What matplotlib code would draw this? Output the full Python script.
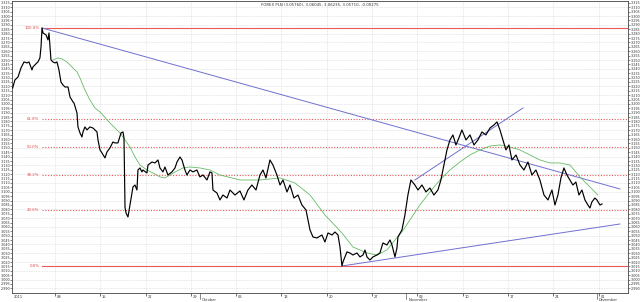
import numpy as np
import matplotlib
matplotlib.use('Agg')
import matplotlib.pyplot as plt

# ── Data (session index, price) ───────────────────────────────────
t = [0.33, 0.58, 0.92, 1.25, 1.58, 1.91, 2.13, 2.46, 2.57, 3.00, 3.12, 3.34, 3.46, 3.57,
     3.68, 4.01, 4.23, 4.34, 4.56, 4.78, 5.00, 5.22, 5.44, 5.66, 5.88, 6.11, 6.44, 6.66,
     6.99, 7.10, 7.43, 7.54, 7.76, 7.98, 8.09, 8.31, 8.53, 8.86, 9.19, 9.64, 9.75, 9.97,
     10.19, 10.52, 10.74, 11.07, 11.40, 11.62, 11.95, 12.29, 12.51, 12.62, 12.73, 12.84,
     13.06, 13.28, 13.50, 13.61, 13.83, 14.05, 14.16, 14.38, 14.60, 14.71, 15.15, 15.27,
     15.71, 16.04, 16.37, 16.59, 16.92, 17.14, 17.47, 17.91, 18.25, 18.47, 18.80, 19.02,
     19.35, 19.57, 19.90, 20.23, 20.67, 21.00, 21.34, 21.78, 22.11, 22.33, 22.44, 22.88,
     23.21, 23.54, 23.99, 24.32, 24.87, 25.42, 25.86, 26.30, 26.74, 27.19, 27.63, 27.96,
     28.29, 28.73, 29.06, 29.50, 29.84, 30.17, 30.61, 30.94, 31.38, 31.82, 32.26, 32.71,
     33.15, 33.48, 33.92, 34.47, 34.80, 35.14, 35.58, 35.91, 36.24, 36.46, 36.68, 36.79,
     37.23, 37.56, 37.89, 38.33, 38.67, 39.00, 39.22, 39.44, 39.77, 40.10, 40.54, 40.87,
     41.20, 41.64, 41.98, 42.20, 42.53, 42.75, 42.86, 43.30, 43.63, 43.96, 44.29, 44.73,
     45.07, 45.51, 45.95, 46.39, 46.83, 47.27, 47.60, 47.93, 48.27, 48.60, 48.93, 49.26,
     49.59, 49.92, 50.37, 50.81, 51.25, 51.69, 52.13, 52.57, 53.02, 53.46, 53.79, 54.12,
     54.45, 54.78, 55.11, 55.44, 55.89, 56.33, 56.77, 57.21, 57.65, 58.09, 58.53, 58.98,
     59.42, 59.86, 60.19, 60.52, 60.85, 61.18, 61.51, 61.84, 62.17, 62.50, 62.84, 63.17,
     63.50, 63.83, 64.05, 64.27, 64.60, 64.82, 65.16, 65.38]
price = [3.2182, 3.2273, 3.2307, 3.2410, 3.2478, 3.2467, 3.2478, 3.2387, 3.2421, 3.2467,
         3.2478, 3.2524, 3.2649, 3.2865, 3.2808, 3.2786, 3.2729, 3.2808, 3.2501, 3.2478,
         3.2467, 3.2478, 3.2387, 3.2250, 3.2216, 3.2193, 3.2193, 3.2079, 3.2023, 3.2011,
         3.1897, 3.1738, 3.1670, 3.1624, 3.1681, 3.1738, 3.1704, 3.1738, 3.1726, 3.1681,
         3.1590, 3.1476, 3.1442, 3.1385, 3.1453, 3.1499, 3.1567, 3.1556, 3.1556, 3.1670,
         3.1681, 3.1613, 3.0827, 3.0759, 3.0713, 3.0849, 3.0986, 3.1055, 3.1077, 3.1020,
         3.1248, 3.1271, 3.1226, 3.1248, 3.1214, 3.1305, 3.1339, 3.1328, 3.1362, 3.1271,
         3.1226, 3.1282, 3.1191, 3.1226, 3.1271, 3.1339, 3.1396, 3.1362, 3.1248, 3.1191,
         3.1248, 3.1226, 3.1248, 3.1169, 3.1191, 3.1134, 3.1226, 3.1214, 3.1020, 3.0986,
         3.0907, 3.0963, 3.0929, 3.1020, 3.0963, 3.1009, 3.0907, 3.1020, 3.1077, 3.1020,
         3.1191, 3.1248, 3.1157, 3.1362, 3.1305, 3.1191, 3.1077, 3.1134, 3.0998, 3.1077,
         3.0929, 3.0963, 3.0849, 3.0793, 3.0565, 3.0485, 3.0474, 3.0508, 3.0428, 3.0531,
         3.0508, 3.0542, 3.0508, 3.0371, 3.0155, 3.0201, 3.0315, 3.0303, 3.0280, 3.0303,
         3.0258, 3.0280, 3.0337, 3.0258, 3.0223, 3.0258, 3.0280, 3.0303, 3.0417, 3.0394,
         3.0451, 3.0394, 3.0258, 3.0360, 3.0485, 3.0565, 3.0736, 3.0963, 3.1134, 3.1077,
         3.1020, 3.1077, 3.0998, 3.1043, 3.0963, 3.1020, 3.1134, 3.1305, 3.1476, 3.1590,
         3.1647, 3.1533, 3.1613, 3.1704, 3.1590, 3.1647, 3.1533, 3.1590, 3.1681, 3.1647,
         3.1726, 3.1761, 3.1795, 3.1704, 3.1590, 3.1476, 3.1533, 3.1362, 3.1419, 3.1305,
         3.1248, 3.1339, 3.1191, 3.1248, 3.1134, 3.0963, 3.0907, 3.1020, 3.0849, 3.0963,
         3.1157, 3.1271, 3.1191, 3.1134, 3.1077, 3.1111, 3.0963, 3.1020, 3.0907, 3.0849,
         3.0815, 3.0884, 3.0929, 3.0907, 3.0849, 3.0861]

ma_t = [4.78, 5.33, 5.77, 6.32, 6.88, 7.43, 7.76, 8.31, 8.86, 9.42, 9.97, 11.07, 12.17,
        13.28, 13.83, 14.38, 15.15, 15.82, 16.59, 17.14, 17.69, 18.47, 19.13, 19.90, 21.00,
        22.11, 23.21, 25.42, 27.63, 29.84, 31.49, 33.15, 34.80, 36.68, 37.89, 39.44, 40.54,
        41.64, 42.53, 43.30, 44.18, 45.29, 46.39, 47.49, 48.60, 49.70, 50.81, 51.91, 53.02,
        54.12, 55.22, 56.33, 57.43, 58.53, 59.64, 60.74, 61.84, 62.95, 64.05, 64.93]
ma = [3.2501, 3.2524, 3.2512, 3.2478, 3.2421, 3.2364, 3.2296, 3.2159, 3.2045, 3.1954,
      3.1909, 3.1783, 3.1670, 3.1510, 3.1396, 3.1305, 3.1248, 3.1214, 3.1169, 3.1157,
      3.1191, 3.1237, 3.1271, 3.1282, 3.1271, 3.1248, 3.1191, 3.1134, 3.1134, 3.1157,
      3.1100, 3.0963, 3.0736, 3.0531, 3.0371, 3.0303, 3.0280, 3.0337, 3.0451, 3.0542,
      3.0679, 3.0850, 3.0998, 3.1134, 3.1248, 3.1339, 3.1419, 3.1476, 3.1521, 3.1533,
      3.1510, 3.1476, 3.1419, 3.1362, 3.1328, 3.1328, 3.1305, 3.1169, 3.1055, 3.0963]

# trend lines: (t0, p0, t1, p1)
trend_lines = [(3.57, 3.2865, 67.36, 3.1032),
               (36.68, 3.0155, 67.36, 3.0633),
               (44.73, 3.1134, 56.66, 3.1954)]

fib_start = 3.57
fib_high, fib_low = 3.2865, 3.0155
fib_ratios = [1.0, 0.618, 0.5, 0.382, 0.236, 0.0]
fib_labels = ['100.0%', '61.8%', '50.0%', '38.2%', '23.6%', '0.0%']

week_ticks = [5, 10, 15, 20, 25, 30, 35, 40, 45, 50, 55, 60, 65]
week_labels = ['08', '15', '22', '29', '06', '13', '20', '27', '03', '10', '17', '24', '01']
months = [(21.0, 'Oktober'), (43.8, 'November'), (64.8, 'Dezember')]

title = 'FOREX PLN (3.05760), 3.06045, 3.06235, 3.05710, -0.00275'

# ── Figure ────────────────────────────────────────────────────────
fig = plt.figure(figsize=(6.4, 3.02), dpi=100)
fig.patch.set_facecolor('white')
ax = fig.add_axes([0.0195, 0.030, 0.9617, 0.967])
ax.set_facecolor('white')
ax.set_xlim(0.31, 68.25)
ax.set_ylim(2.9848, 3.3173)

yt = np.round(np.arange(2.990, 3.3151, 0.005), 3)
ax.set_yticks(yt)
ax.set_yticklabels([f'{v:.3f}' for v in yt])
ax.tick_params(axis='y', labelsize=2.4, length=1.2, width=0.4, pad=0.5,
               left=True, right=True, labelleft=True, labelright=True, colors='#333')
for v in np.round(np.arange(2.990, 3.3151, 0.01), 3):
    ax.axhline(v, color='#bbbbbb', lw=0.4, ls=(0, (1, 2)), zorder=0)

ax.set_xticks(week_ticks)
ax.set_xticklabels([])
ax.tick_params(axis='x', length=2, width=0.4)
for wt in week_ticks:
    ax.axvline(wt, color='#bbbbbb', lw=0.4, ls=(0, (1, 2)), zorder=0)
for wt, wl in zip(week_ticks, week_labels):
    ax.text(wt + 0.2, -0.006, wl, transform=ax.get_xaxis_transform(),
            fontsize=2.6, color='#333', ha='left', va='top')
for mt, ml in months:
    ax.axvline(mt, ymin=-0.02, ymax=0, color='#333', lw=0.4, clip_on=False)
    ax.text(mt + 0.2, -0.018, ml, transform=ax.get_xaxis_transform(),
            fontsize=2.6, color='#333', ha='left', va='top')
ax.text(0.5, -0.006, '2011', transform=ax.get_xaxis_transform(),
        fontsize=2.6, color='#333', ha='left', va='top')

for sp in ax.spines.values():
    sp.set_linewidth(0.6)
    sp.set_color('#444')

# Fibonacci retracement
for r, lab in zip(fib_ratios, fib_labels):
    lvl = fib_low + r * (fib_high - fib_low)
    ls = '-' if r in (0.0, 1.0) else (0, (1, 1.5))
    ax.plot([fib_start, 68.25], [lvl, lvl], color='#e85a5a', lw=0.8, ls=ls, zorder=1)
    ax.text(fib_start - 0.3, lvl, lab, color='#e04848', fontsize=2.8,
            ha='right', va='center')

# trend lines
for t0, p0, t1, p1 in trend_lines:
    ax.plot([t0, t1], [p0, p1], color='#7070d0', lw=0.7, zorder=2)

ax.plot(ma_t, ma, color='#66bb66', lw=0.6, zorder=3)
ax.plot(t, price, color='black', lw=0.85, zorder=4)

fig.text(0.5, 0.985, title, fontsize=2.8, ha='center', va='center', color='#333')

plt.savefig('out.png', dpi=100, facecolor='white')
